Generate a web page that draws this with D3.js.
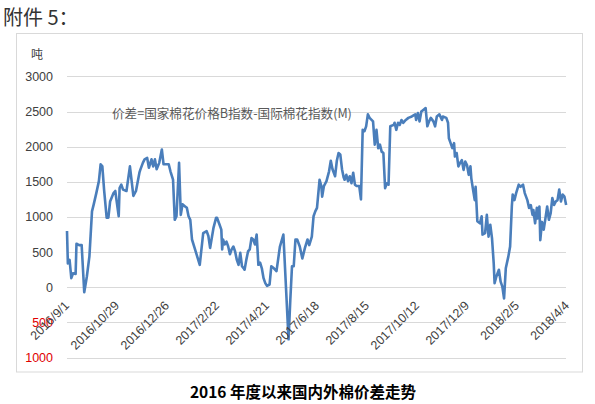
<!DOCTYPE html>
<html><head><meta charset="utf-8">
<script src="https://cdn.jsdelivr.net/npm/d3@7/dist/d3.min.js"></script>
<style>body{margin:0;background:#fff}svg{display:block}</style>
</head><body>
<svg id="c" width="595" height="404"></svg>
<script>
// Data: day offsets from 2016/9/1 and price gap values (吨 units as labelled)
const baseDate = "2016/9/1";
const dayOffsets = [0,1,3,5,7,10,11,14,17,20,23,26,29,31,34,37,39,41,43,46,48,50,54,56,60,61,63,65,69,73,77,80,84,85,88,90,93,95,98,100,102,104,107,110,112,116,118,120,123,125,127,130,132,134,137,139,141,143,145,148,154,158,162,164,166,170,173,174,177,179,180,181,183,185,187,189,191,193,195,197,199,201,203,205,206,208,210,212,214,216,218,220,221,222,224,226,228,230,232,235,237,240,243,247,251,257,259,261,263,265,267,270,273,276,279,281,284,286,288,290,293,295,296,298,301,304,306,308,311,313,315,317,319,321,322,324,326,328,330,332,334,336,339,341,343,345,347,349,351,355,357,359,361,363,365,367,369,371,373,375,379,380,382,384,386,388,390,393,396,400,404,405,407,409,411,414,416,418,420,422,425,427,429,432,435,436,440,442,443,445,447,449,450,452,454,456,458,460,462,464,466,468,469,471,473,474,476,479,481,482,485,487,489,491,493,495,496,498,501,503,505,507,509,512,514,516,517,519,521,524,526,529,531,534,536,538,540,541,543,545,546,548,549,551,553,555,557,559,561,563,565,567,569,571,573,575,577,579];
const values = [800,340,390,130,200,190,620,600,600,-70,150,440,1080,1180,1340,1510,1750,1720,1390,990,990,1220,1340,1370,1010,1410,1460,1390,1370,1720,1300,1370,1630,1670,1770,1820,1840,1700,1820,1720,1820,1680,1770,1960,1750,1750,1750,1650,1530,960,1010,1770,1030,1180,1150,1130,1010,960,680,560,320,770,800,730,560,850,990,990,890,820,540,680,610,650,580,470,540,580,510,390,320,490,300,270,250,390,510,540,700,680,610,750,540,320,350,270,130,60,20,40,300,270,230,580,750,-740,-190,300,300,680,680,580,410,560,680,600,720,1010,1080,1130,1530,1440,1290,1440,1510,1650,1800,1680,1580,1800,1910,1890,1680,1560,1530,1600,1510,1580,1480,1630,1460,1440,1440,1250,2240,2220,2290,2460,2410,2360,2030,2240,1980,2030,1930,1910,1410,1480,1460,2290,2310,2340,2240,2340,2310,2380,2340,2380,2410,2430,2460,2380,2480,2360,2500,2530,2550,2290,2360,2410,2360,2290,2430,2460,2380,2430,2410,2340,2120,2050,1980,2050,1860,1910,1720,1770,1810,1670,1790,1740,1600,1720,1550,1390,1240,1430,940,910,1010,750,770,1030,720,890,700,340,60,150,250,80,10,-160,270,440,580,1150,1320,1240,1340,1460,1430,1460,1340,1240,1130,1170,1030,1100,910,1130,980,1150,670,930,820,980,1150,960,1050,1270,1170,1220,1240,1390,1220,1320,1290,1170];
const xTickLabels = ["2016/9/1","2016/10/29","2016/12/26","2017/2/22","2017/4/21","2017/6/18","2017/8/15","2017/10/12","2017/12/9","2018/2/5","2018/4/4"];
const yTicks = [3000,2500,2000,1500,1000,500,0,-500,-1000];
const unitLabel = "吨";
const noteText = "价差=国家棉花价格B指数-国际棉花指数(M)";
const headText = "附件 5：";
const captionText = "2016 年度以来国内外棉价差走势";

const parse = d3.timeParse("%Y/%m/%d");
const start = parse(baseDate);
const data = dayOffsets.map((d,i)=>({date:d3.timeDay.offset(start,d), v:values[i]}));
const tickDates = xTickLabels.map(parse);

const svg = d3.select("#c");
const x = d3.scaleTime().domain([tickDates[0], tickDates[tickDates.length-1]]).range([67,567]);
const y = d3.scaleLinear().domain([-1000,3000]).range([357.6,76.4]);

svg.append("text").attr("x",3).attr("y",25).attr("font-family","Noto Sans CJK SC").attr("font-size",20).attr("fill","#333").text(headText);
svg.append("rect").attr("x",16.5).attr("y",33.5).attr("width",566).attr("height",338.5).attr("fill","none").attr("stroke","#d9d9d9");
svg.append("text").attr("x",31).attr("y",59).attr("font-family","Noto Sans CJK SC").attr("font-size",12).attr("fill","#404040").text(unitLabel);

// grid
svg.append("g").selectAll("line").data(yTicks).join("line")
  .attr("x1",67).attr("x2",566).attr("y1",d=>Math.round(y(d))+0.5).attr("y2",d=>Math.round(y(d))+0.5)
  .attr("stroke","#d9d9d9").attr("stroke-width",1);
// y labels
svg.append("g").selectAll("text").data(yTicks).join("text")
  .attr("x",53).attr("y",d=>y(d)).attr("dy","0.35em").attr("text-anchor","end")
  .attr("font-family","Liberation Sans, Arial, sans-serif").attr("font-size",12.5)
  .attr("fill",d=>d<0?"#e00000":"#404040").text(d=>d<0?String(Math.abs(d)):String(d));

svg.append("text").attr("x",112).attr("y",118).attr("font-family","Noto Sans CJK SC").attr("font-size",12.6).attr("fill","#595959").text(noteText);

const line = d3.line().x(d=>x(d.date)).y(d=>y(d.v));
svg.append("path").datum(data).attr("d",line).attr("fill","none").attr("stroke","#4A7EBB").attr("stroke-width",2.6).attr("stroke-linejoin","round");

// x labels
svg.append("g").selectAll("text").data(tickDates).join("text")
  .attr("transform",(d)=>`translate(${x(d)+3},${y(0)+19}) rotate(-45)`)
  .attr("text-anchor","end").attr("font-family","Liberation Sans, Arial, sans-serif").attr("font-size",12.5)
  .attr("fill","#404040").text((d,i)=>xTickLabels[i]);

svg.append("text").attr("x",303).attr("y",398).attr("text-anchor","middle").attr("font-family","Noto Sans CJK SC").attr("font-weight","bold").attr("font-size",15.5).attr("fill","#000").text(captionText);
</script>
</body></html>
